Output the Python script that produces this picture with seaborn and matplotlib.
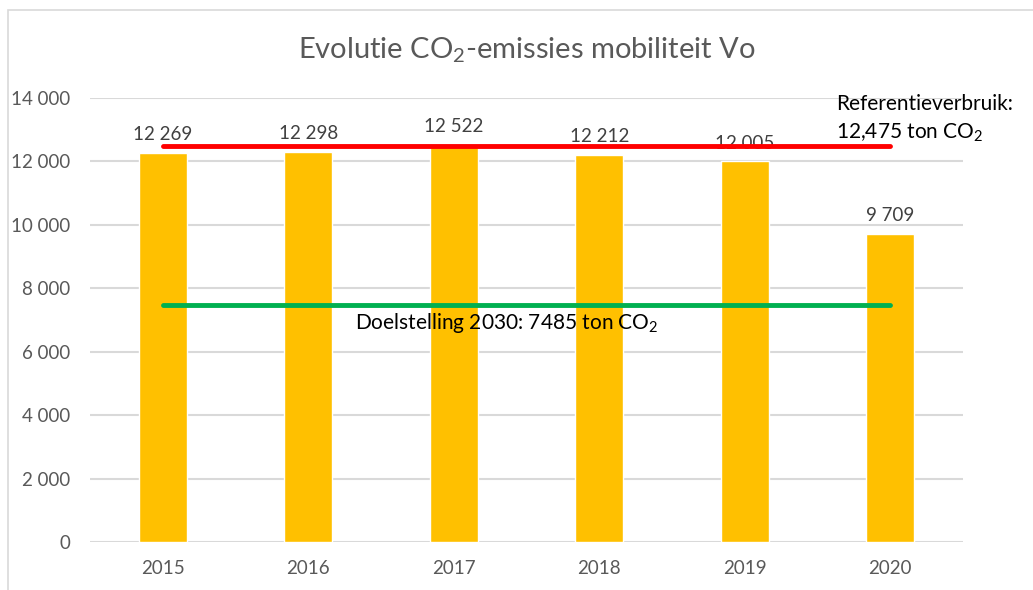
import matplotlib
matplotlib.use("Agg")
import matplotlib.pyplot as plt
import matplotlib.patches as mpatches
import seaborn as sns
import pandas as pd

years = ["2015", "2016", "2017", "2018", "2019", "2020"]
emissions = [12269, 12298, 12522, 12212, 12005, 9709]
reference_value = 12475
target_value = 7485
y_ticks = [0, 2000, 4000, 6000, 8000, 10000, 12000, 14000]

sns.set_theme(style="white")
plt.rcParams["font.family"] = ["Lato", "DejaVu Sans"]
plt.rcParams["mathtext.fontset"] = "custom"
plt.rcParams["mathtext.rm"] = "Lato"

df = pd.DataFrame({"jaar": years, "uitstoot": emissions})

fig = plt.figure(figsize=(10.33, 5.9), dpi=100)
ax = fig.add_axes([90 / 1033, 1 - 542 / 590, 873 / 1033, 444 / 590])

# outer chart border (cut off at right and bottom)
fig.patches.append(mpatches.Rectangle((8 / 1033, -0.1), 1.2, 1 - 10 / 590 + 0.1,
                                      transform=fig.transFigure, fill=False,
                                      edgecolor="#D9D9D9", lw=1.2))

sns.barplot(data=df, x="jaar", y="uitstoot", color="#FFC000", width=0.33,
            saturation=1, ax=ax, zorder=3)

ax.set_ylim(0, 14000)
ax.set_xlim(-0.5, len(years) - 0.5)
ax.set_yticks(y_ticks)
ax.set_yticklabels([f"{v:,}".replace(",", " ") for v in y_ticks])
ax.yaxis.grid(True, color="#D9D9D9", lw=1.5, zorder=0)
ax.set_axisbelow(True)
for s in ["top", "right", "left", "bottom"]:
    ax.spines[s].set_visible(False)
ax.axhline(0, color="#D9D9D9", lw=2, zorder=1)
ax.tick_params(axis="both", length=0, labelsize=13.5, labelcolor="#595959")
ax.tick_params(axis="x", pad=13)
ax.tick_params(axis="y", pad=14)
ax.set_xlabel("")
ax.set_ylabel("")

# data labels
for i, v in enumerate(emissions):
    ax.annotate(f"{v:,}".replace(",", " "), (i, v), xytext=(0, 7),
                textcoords="offset points", ha="center", va="bottom",
                fontsize=13.5, color="#404040", zorder=4)

# reference and target lines
ax.hlines(reference_value, 0, len(years) - 1, color="#FF0000", lw=3.5,
          capstyle="round", zorder=5)
ax.hlines(target_value, 0, len(years) - 1, color="#00B050", lw=3.5,
          capstyle="round", zorder=5)

fig.text(836 / 1033, 1 - 104 / 590, "Referentieverbruik:", fontsize=15,
         color="black", va="center", ha="left")
fig.text(836 / 1033, 1 - 133 / 590, f"{reference_value:,} ton CO$_\\mathregular{{2}}$",
         fontsize=15, color="black", va="center", ha="left")
fig.text(355 / 1033, 1 - 323 / 590, f"Doelstelling 2030: {target_value} ton CO$_\\mathregular{{2}}$",
         fontsize=15, color="black", va="center", ha="left", zorder=6)

fig.text(527 / 1033, 1 - 50 / 590, "Evolutie CO$_\\mathregular{2}$-emissies mobiliteit Vo",
         fontsize=21, color="#595959", ha="center", va="center")

fig.savefig("out.png", dpi=100)
